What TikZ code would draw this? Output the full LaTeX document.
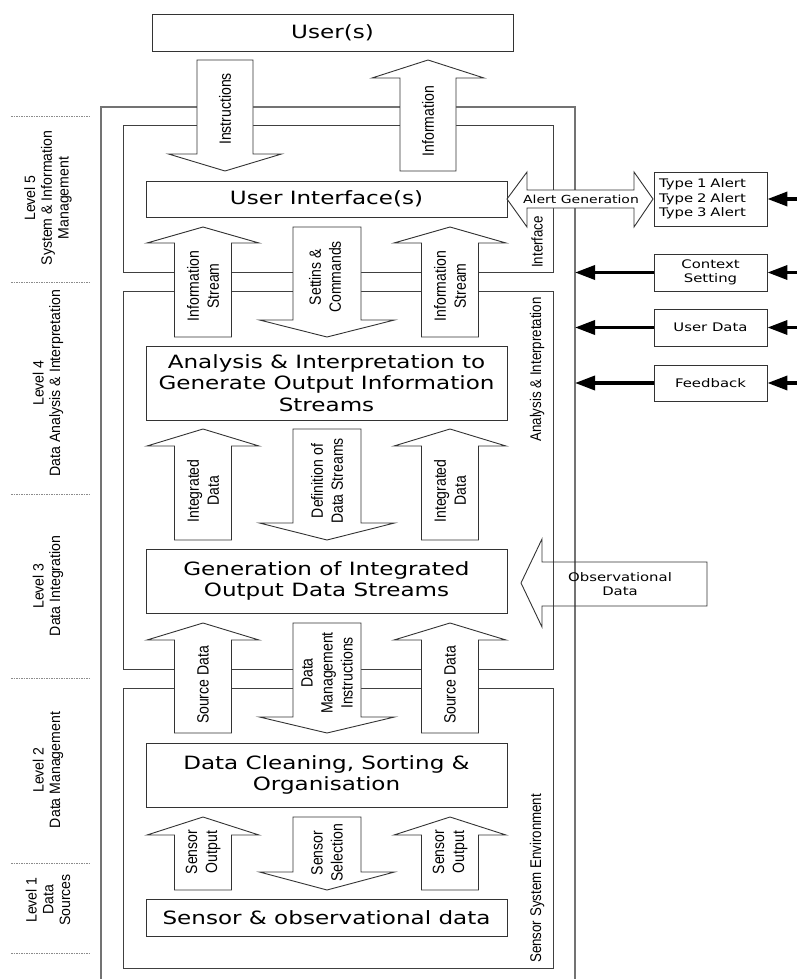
\documentclass[tikz,border=0pt]{standalone}
\usepackage{fontspec}
\usetikzlibrary{arrows.meta}
\newfontfamily\boxfont[FakeStretch=1.26]{DejaVu Sans}
\newfontfamily\arrfont[FakeStretch=0.86]{Liberation Sans}
\newfontfamily\lvlfont[FakeStretch=0.94]{Liberation Sans}

% block arrow: centre x, shaft half width, head half width, y of tail, y of head base, y of tip
\newcommand{\blockarrow}[6]{%
  \draw[blockarr] ({#1-#2},#4) -- ({#1-#2},#5) -- ({#1-#3},#5) -- (#1,#6)
    -- ({#1+#3},#5) -- ({#1+#2},#5) -- ({#1+#2},#4) -- cycle;}

\tikzset{
  frame/.style={draw=black!75, line width=0.9pt},
  sysframe/.style={draw=black!55, line width=1.4pt},
  mainbox/.style={draw=black!80, fill=white, line width=0.9pt, minimum width=361pt,
    inner sep=0pt, align=center, font=\boxfont\fontsize{18.3}{21.7}\selectfont},
  sidebox/.style={draw=black!80, fill=white, line width=0.9pt, minimum width=113pt,
    inner sep=0pt, align=center, font=\boxfont\fontsize{11.8}{14.5}\selectfont},
  blockarr/.style={draw=black!80, fill=white, line width=0.9pt, line join=miter},
  arrlabel/.style={rotate=90, align=center, inner sep=0pt,
    font=\arrfont\fontsize{16.3}{20}\selectfont},
  framelabel/.style={rotate=90, inner sep=0pt, font=\arrfont\fontsize{15.5}{18}\selectfont},
  levellabel/.style={rotate=90, align=center, inner sep=0pt,
    font=\lvlfont\fontsize{15}{16.7}\selectfont},
  levelsep/.style={draw=black!45, dash pattern=on 1.5pt off 1pt, line width=0.7pt},
  feed/.style={line width=3.5pt, -{Triangle[length=20pt,width=14pt]}},
}

\begin{document}
\begin{tikzpicture}[x=1pt, y=-1pt]
  \useasboundingbox (0,0) rectangle (796,979);

  % levels
  \foreach \y in {116,282,494,678,863,953}
    \draw[levelsep] (11,\y) -- (90,\y);
  \node[levellabel] (lv5) at (48,198) {Level 5\\System \& Information\\Management};
  \node[levellabel] (lv4) at (48,383) {Level 4\\Data Analysis \& Interpretation};
  \node[levellabel] (lv3) at (48,586) {Level 3\\Data Integration};
  \node[levellabel] (lv2) at (48,770) {Level 2\\Data Management};
  \node[levellabel] (lv1) at (48,900) {Level 1\\Data\\Sources};

  % frames
  \draw[sysframe] (101,985) -- (101,107) -- (575,107) -- (575,985);
  \coordinate (sysR) at (575,107);
  \draw[frame] (123,125) rectangle (553,272);
  \draw[frame] (123,291) rectangle (553,669);
  \draw[frame] (123,688) rectangle (553,968);

  % observational data
  \draw[blockarr, fill=none] (521,583) -- (542,539) -- (542,562) -- (707,562)
    -- (707,606) -- (542,606) -- (542,627) -- cycle;
  \node[sidebox, draw=none, fill=none, minimum width=0pt] (obs) at (620,584)
    {Observational\\Data};

  % user level arrows
  \blockarrow{225}{28}{56.5}{60}{154}{171}
  \blockarrow{428}{28}{56}{171}{78}{60}
  \node[arrlabel] (instr) at (225,109) {Instructions};
  \node[arrlabel] (info) at (428,121) {Information};

  % arrows between the levels
  \foreach \yt/\yb/\yh/\ys/\lab [count=\i] in {
      337/243/227/286/{Information\\Stream},
      540/446/429/491/{Integrated\\Data},
      733/640/623/685/{Source Data},
      890/835/817/852/{Sensor\\Output}} {
    \blockarrow{203}{28.5}{56}{\yt}{\yb}{\yh}
    \blockarrow{450}{28.5}{56}{\yt}{\yb}{\yh}
    \node[arrlabel] (upl\i) at (203,\ys) {\lab};
    \node[arrlabel] (upr\i) at (450,\ys) {\lab};
  }
  \blockarrow{327}{34}{67.5}{227}{320}{337}
  \blockarrow{327}{34}{67.5}{429}{523}{540}
  \blockarrow{327}{34}{67.5}{623}{717}{733}
  \blockarrow{327}{34}{67.5}{817}{872}{890}
  \node[arrlabel] (cmd) at (325,277) {Settins \&\\Commands};
  \node[arrlabel] (defs) at (327,481) {Definition of\\Data Streams};
  \node[arrlabel] (dmi) at (327,673) {Data\\Management\\Instructions};
  \node[arrlabel] (ssel) at (327,853) {Sensor\\Selection};

  % main boxes
  \node[mainbox, minimum height=37pt] (users) at (332.5,32.5) {User(s)};
  \node[mainbox, minimum height=36pt] (ui) at (326.5,199) {User Interface(s)};
  \node[mainbox, minimum height=74pt] (anl) at (326.5,383)
    {Analysis \& Interpretation to\\Generate Output Information\\Streams};
  \node[mainbox, minimum height=64pt] (gen) at (326.5,581)
    {Generation of Integrated\\Output Data Streams};
  \node[mainbox, minimum height=64pt] (clean) at (326.5,775)
    {Data Cleaning, Sorting \&\\Organisation};
  \node[mainbox, minimum height=37pt] (sens) at (326.5,917.5)
    {Sensor \& observational data};

  % frame labels
  \node[framelabel, anchor=west] (lint) at (537,268) {Interface};
  \node[framelabel, anchor=east] (lanl) at (537,297) {Analysis \& Interpretation};
  \node[framelabel, anchor=west] (lenv) at (537,963) {Sensor System Environment};

  % alerts
  \draw[blockarr] (507,199) -- (527,172) -- (527,190) -- (634,190) -- (634,172)
    -- (653,199) -- (634,227) -- (634,208) -- (527,208) -- (527,227) -- cycle;
  \node[sidebox, draw=none, fill=none, minimum width=0pt,
    font=\boxfont\fontsize{11.1}{14}\selectfont] (algen) at (581,199) {Alert Generation};
  \node[sidebox, minimum height=54pt, text width=103pt, inner xsep=5pt, align=left]
    (alerts) at (710.5,199) {Type 1 Alert\\Type 2 Alert\\Type 3 Alert};

  % side inputs
  \node[sidebox, minimum height=37pt] (ctx) at (710.5,272.5) {Context\\Setting};
  \node[sidebox, minimum height=37pt] (udata) at (710.5,327.5) {User Data};
  \node[sidebox, minimum height=36pt] (fback) at (710.5,383) {Feedback};
  \coordinate (edge) at (800,0);
  \foreach \n in {alerts,ctx,udata,fback}
    \draw[feed] (\n.east -| edge) -- (\n.east);
  \foreach \n in {ctx,udata,fback}
    \draw[feed] (\n.west) -- (\n.west -| sysR);
\end{tikzpicture}
\end{document}
